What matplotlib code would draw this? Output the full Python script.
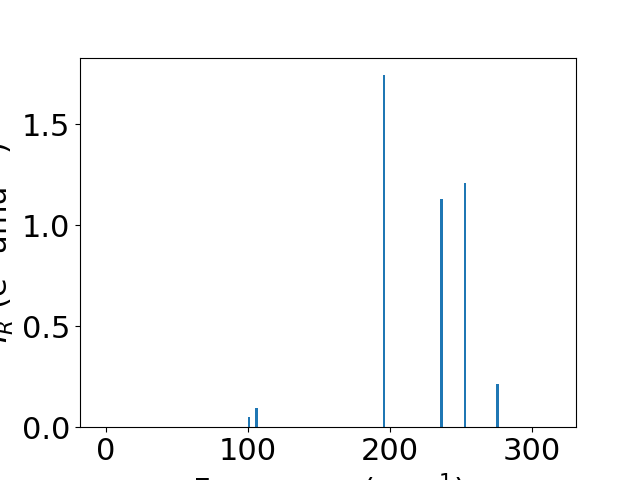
import numpy as np
import matplotlib.pyplot as plt

# vibrational modes and IR intensities
freqs = [100.7, 106.0, 195.8, 236.3, 252.8, 276.0]
intensities = [0.050, 0.094, 1.743, 1.129, 1.208, 0.213]

plt.rcParams['font.size'] = 22

fig, ax = plt.subplots(figsize=(6.4, 4.8), dpi=100)
ax.bar(freqs, intensities, width=2.0, color='tab:blue')

ax.set_xlim(-18.3, 331)
ax.set_xticks([0, 100, 200, 300])
ax.set_yticks([0.0, 0.5, 1.0, 1.5])
ax.set_xlabel('Frequency (cm$^{-1}$)')
ax.set_ylabel('$I_R$ (e$^2$ amu$^{-1}$)')

plt.savefig('out.png')
